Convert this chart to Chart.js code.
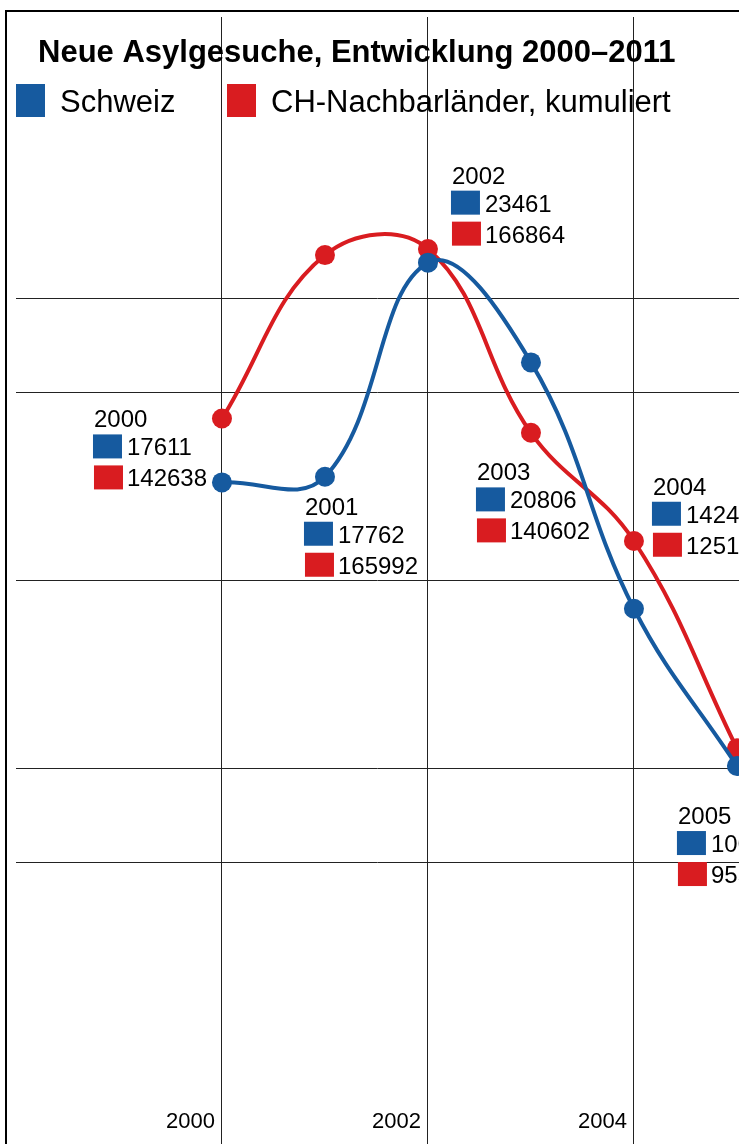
<!DOCTYPE html>
<html>
<head>
<meta charset="utf-8">
<script src="https://cdn.jsdelivr.net/npm/chart.js@4"></script>
<style>
  html, body { margin: 0; padding: 0; background: #fff; overflow: hidden; }
  canvas { display: block; }
</style>
</head>
<body>
<canvas id="asylChart" width="739" height="1144"></canvas>
<script>
// Daten
const years = [2000, 2001, 2002, 2003, 2004, 2005];
const schweiz = [17611, 17762, 23461, 20806, 14248, 10061];
const nachbar = [142638, 165992, 166864, 140602, 125140, 95520];
const seriesNames = ['Schweiz', 'CH-Nachbarländer, kumuliert'];
const xTickLabels = [2000, 2002, 2004];
const yGridValues = [7500, 10000, 15000, 20000, 22500];
const chartTitle = 'Neue Asylgesuche, Entwicklung 2000–2011';

const BLUE = '#165a9f';
const RED = '#d91c20';
const FONT = '"Liberation Sans", Arial, Helvetica, sans-serif';

// Verschiebung der Wertekästchen gegenüber dem Punkt (Schweiz)
const labelDX = [-128, -20, 24, -54, 19, -59];
const labelDY = [-72, 21, -96, 101, -131, 41];

// Titel, Legende, Rahmen, Achsenbeschriftung, Wertekästchen
const decor = {
  id: 'decor',
  afterDraw(chart) {
    const ctx = chart.ctx;
    const x = chart.scales.x;
    const yB = chart.scales.y;
    ctx.save();

    // Rahmen links und oben
    ctx.strokeStyle = '#000';
    ctx.lineWidth = 2;
    ctx.beginPath();
    ctx.moveTo(6, chart.height);
    ctx.lineTo(6, 11);
    ctx.lineTo(chart.width, 11);
    ctx.stroke();

    // Titel
    ctx.fillStyle = '#000';
    ctx.textAlign = 'left';
    ctx.textBaseline = 'alphabetic';
    ctx.font = 'bold 31px ' + FONT;
    ctx.fillText(chartTitle, 38, 62);

    // Legende
    const colors = [BLUE, RED];
    const legX = [16, 227];
    ctx.font = '31px ' + FONT;
    seriesNames.forEach((name, i) => {
      ctx.fillStyle = colors[i];
      ctx.fillRect(legX[i], 84, 29, 33);
      ctx.fillStyle = '#000';
      ctx.fillText(name, legX[i] + 44, 112);
    });

    // x-Achse: Jahreszahlen links neben der Linie
    ctx.font = '22px ' + FONT;
    ctx.textAlign = 'right';
    xTickLabels.forEach(v => {
      ctx.fillText(String(v), x.getPixelForValue(v) - 7, 1128);
    });

    // Wertekästchen pro Jahr
    ctx.textAlign = 'left';
    ctx.font = '24px ' + FONT;
    years.forEach((yr, i) => {
      const x0 = x.getPixelForValue(yr) + labelDX[i];
      const y0 = yB.getPixelForValue(schweiz[i]) + labelDY[i];
      ctx.fillStyle = '#000';
      ctx.fillText(String(yr), x0, y0 + 17);
      ctx.fillStyle = BLUE;
      ctx.fillRect(x0 - 1, y0 + 24, 29, 24);
      ctx.fillStyle = RED;
      ctx.fillRect(x0, y0 + 55, 29, 24);
      ctx.fillStyle = '#000';
      ctx.fillText(String(schweiz[i]), x0 + 33, y0 + 45);
      ctx.fillText(String(nachbar[i]), x0 + 33, y0 + 76);
    });

    ctx.restore();
  }
};

const ctx = document.getElementById('asylChart').getContext('2d');
new Chart(ctx, {
  type: 'line',
  data: {
    datasets: [
      {
        label: seriesNames[0],
        data: years.map((yr, i) => ({ x: yr, y: schweiz[i] })),
        yAxisID: 'y',
        borderColor: BLUE,
        backgroundColor: BLUE,
        pointBackgroundColor: BLUE,
        borderWidth: 4,
        pointRadius: 10,
        pointBorderWidth: 0,
        tension: 0.4,
        clip: false
      },
      {
        label: seriesNames[1],
        data: years.map((yr, i) => ({ x: yr, y: nachbar[i] })),
        yAxisID: 'y1',
        borderColor: RED,
        backgroundColor: RED,
        pointBackgroundColor: RED,
        borderWidth: 4,
        pointRadius: 10,
        pointBorderWidth: 0,
        tension: 0.4,
        clip: false
      }
    ]
  },
  options: {
    responsive: false,
    animation: false,
    devicePixelRatio: 1,
    layout: { autoPadding: false, padding: { left: 16, top: 17, right: 0, bottom: 0 } },
    plugins: {
      legend: { display: false },
      title: { display: false },
      tooltip: { enabled: false }
    },
    scales: {
      x: {
        type: 'linear',
        min: 1998,
        max: 2005.02,
        afterBuildTicks: s => { s.ticks = xTickLabels.map(v => ({ value: v })); },
        ticks: { display: false },
        grid: { color: '#222', lineWidth: 1, drawTicks: false },
        border: { display: false }
      },
      y: {
        position: 'left',
        min: 0,
        max: 30000,
        afterBuildTicks: s => { s.ticks = yGridValues.map(v => ({ value: v })); },
        ticks: { display: false },
        grid: { color: '#222', lineWidth: 1, drawTicks: false },
        border: { display: false }
      },
      y1: {
        position: 'right',
        display: false,
        min: 39000,
        max: 200000
      }
    }
  },
  plugins: [decor]
});
</script>
</body>
</html>
